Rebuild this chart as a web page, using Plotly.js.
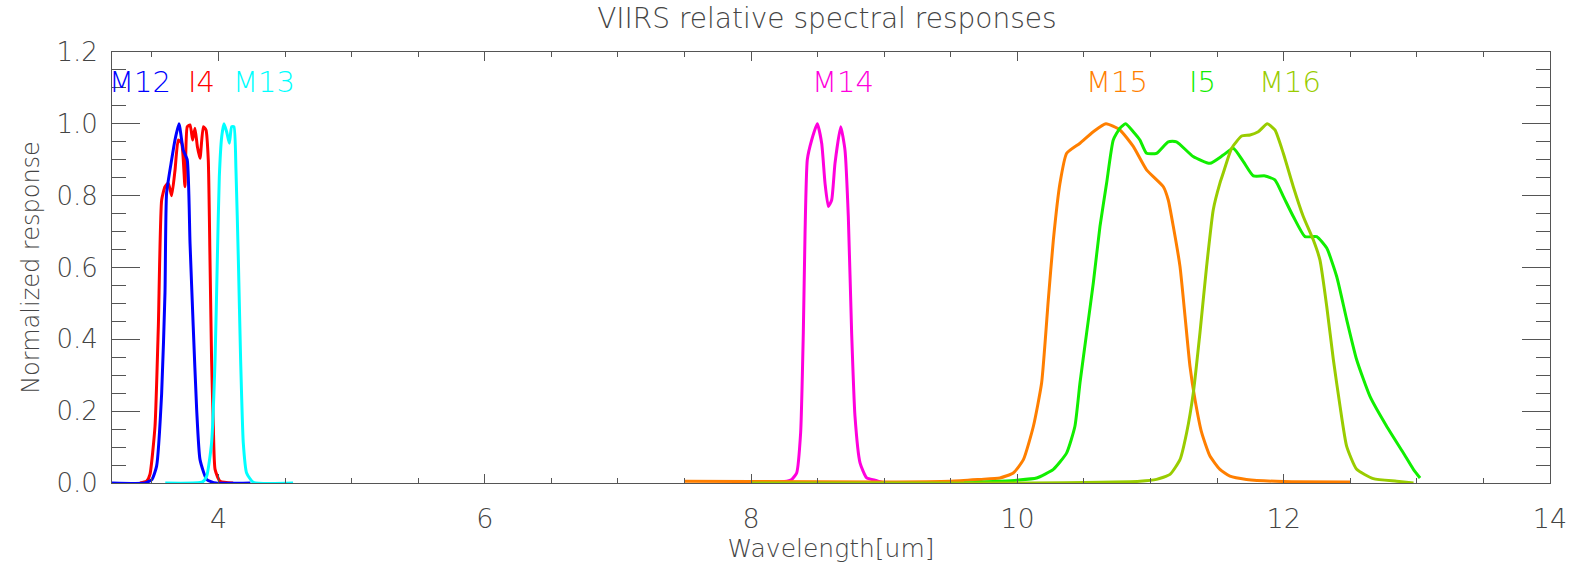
<!DOCTYPE html>
<html>
<head>
<meta charset="utf-8">
<script src="https://cdn.plot.ly/plotly-3.0.1.min.js"></script>
<style>html,body{margin:0;padding:0;background:#fff;}#chart{width:1569px;height:566px;}</style>
</head>
<body>
<div id="chart"></div>
<script>
// Band names and colours
const bandNames = ["I4", "M12", "M13", "M14", "M15", "I5", "M16"];
const bandColors = ["#ff0000", "#0000ff", "#00ffff", "#ff00dd", "#ff7f00", "#11ee00", "#99cc00"];
const labelNames = ["M12", "I4", "M13", "M14", "M15", "I5", "M16"];
const labelColors = ["#0000ff", "#ff0000", "#00ffff", "#ff00dd", "#ff7f00", "#11ee00", "#99cc00"];
const labelX = [3.41, 3.87, 4.34, 8.69, 10.75, 11.39, 12.05];
const labelY = 1.117;

// I4
const i4_x = [3.41, 3.46, 3.485, 3.523, 3.548, 3.573, 3.598, 3.623, 3.648, 3.673, 3.698, 3.723, 3.748, 3.765, 3.786, 3.806, 3.823, 3.841, 3.861, 3.886, 3.906, 3.923, 3.936, 3.948, 3.961, 3.974, 4.011, 4.11];
const i4_y = [0.0, 0.005, 0.024, 0.158, 0.436, 0.788, 0.825, 0.835, 0.80, 0.87, 0.955, 0.946, 0.825, 0.992, 0.997, 0.955, 0.988, 0.937, 0.904, 0.992, 0.983, 0.90, 0.621, 0.343, 0.158, 0.038, 0.005, 0.0];
// M12
const m12_x = [3.2, 3.45, 3.50, 3.535, 3.573, 3.598, 3.61, 3.648, 3.673, 3.703, 3.735, 3.765, 3.786, 3.81, 3.836, 3.861, 3.911, 3.98, 4.24];
const m12_y = [0.0, 0.0, 0.01, 0.047, 0.25, 0.53, 0.807, 0.90, 0.955, 1.0, 0.927, 0.90, 0.668, 0.436, 0.204, 0.065, 0.01, 0.0, 0.0];
// M13
const m13_x = [3.6, 3.88, 3.911, 3.948, 3.974, 3.991, 4.006, 4.024, 4.041, 4.061, 4.081, 4.099, 4.116, 4.131, 4.149, 4.166, 4.186, 4.211, 4.261, 4.56];
const m13_y = [0.0, 0.003, 0.019, 0.112, 0.343, 0.621, 0.853, 0.964, 1.0, 0.978, 0.946, 0.992, 0.992, 0.872, 0.621, 0.343, 0.112, 0.028, 0.002, 0.0];
// M14
const m14_x = [8.0, 8.25, 8.305, 8.342, 8.372, 8.392, 8.405, 8.422, 8.455, 8.497, 8.53, 8.555, 8.58, 8.605, 8.63, 8.673, 8.705, 8.73, 8.755, 8.78, 8.818, 8.868, 8.93, 9.0];
const m14_y = [0.0, 0.004, 0.01, 0.028, 0.14, 0.418, 0.696, 0.90, 0.955, 1.0, 0.946, 0.835, 0.77, 0.788, 0.89, 0.992, 0.927, 0.742, 0.418, 0.186, 0.056, 0.014, 0.008, 0.0];
// M15
const m15_x = [7.5, 8.0, 9.0, 9.5, 9.719, 9.869, 9.969, 10.045, 10.12, 10.182, 10.232, 10.27, 10.32, 10.37, 10.47, 10.57, 10.665, 10.77, 10.87, 10.97, 11.096, 11.133, 11.171, 11.221, 11.259, 11.296, 11.334, 11.384, 11.446, 11.521, 11.596, 11.72, 12.0, 12.5];
const m15_y = [0.005, 0.004, 0.003, 0.005, 0.01, 0.014, 0.028, 0.065, 0.158, 0.279, 0.51, 0.677, 0.835, 0.918, 0.946, 0.978, 1.0, 0.983, 0.937, 0.872, 0.825, 0.788, 0.714, 0.603, 0.464, 0.325, 0.232, 0.14, 0.075, 0.038, 0.019, 0.01, 0.004, 0.003];
// I5
const i5_x = [9.6, 9.994, 10.144, 10.27, 10.37, 10.432, 10.47, 10.52, 10.57, 10.62, 10.67, 10.72, 10.77, 10.813, 10.87, 10.92, 10.97, 11.045, 11.133, 11.195, 11.32, 11.446, 11.546, 11.621, 11.697, 11.772, 11.86, 11.934, 11.997, 12.072, 12.16, 12.248, 12.323, 12.398, 12.473, 12.548, 12.648, 12.773, 12.898, 12.974, 13.024];
const i5_y = [0.0, 0.008, 0.014, 0.038, 0.084, 0.158, 0.279, 0.418, 0.557, 0.714, 0.835, 0.955, 0.988, 1.0, 0.978, 0.955, 0.918, 0.918, 0.95, 0.95, 0.909, 0.89, 0.913, 0.932, 0.895, 0.855, 0.855, 0.844, 0.798, 0.742, 0.686, 0.686, 0.654, 0.575, 0.455, 0.343, 0.241, 0.158, 0.084, 0.038, 0.014];
// M16
const m16_x = [8.0, 9.0, 10.0, 10.92, 11.045, 11.146, 11.221, 11.271, 11.321, 11.371, 11.421, 11.471, 11.521, 11.546, 11.609, 11.684, 11.747, 11.809, 11.877, 11.934, 11.997, 12.072, 12.147, 12.222, 12.272, 12.323, 12.373, 12.423, 12.473, 12.548, 12.673, 12.848, 12.975];
const m16_y = [0.0, 0.0, 0.0, 0.005, 0.01, 0.024, 0.065, 0.14, 0.251, 0.418, 0.603, 0.761, 0.835, 0.863, 0.932, 0.966, 0.969, 0.978, 1.0, 0.983, 0.918, 0.825, 0.742, 0.677, 0.621, 0.492, 0.343, 0.214, 0.102, 0.038, 0.012, 0.005, 0.0];

const xs = [i4_x, m12_x, m13_x, m14_x, m15_x, i5_x, m16_x];
const ys = [i4_y, m12_y, m13_y, m14_y, m15_y, i5_y, m16_y];

// Axis settings
const xRange = [3.2, 14];
const yRange = [0, 1.2];
const xTickVals = [4, 6, 8, 10, 12, 14];
const yTickVals = [0.0, 0.2, 0.4, 0.6, 0.8, 1.0, 1.2];

const textColor = "#444444";
const axisColor = "#555555";
const fontFam = "DejaVu Sans, sans-serif";

const traces = bandNames.map((n, i) => ({
  x: xs[i], y: ys[i], type: "scatter", mode: "lines", name: n,
  line: {color: bandColors[i], width: 3, shape: "spline", smoothing: 0.5}, showlegend: false, hoverinfo: "skip"
}));

const annotations = labelNames.map((n, i) => ({
  x: labelX[i], y: labelY, xref: "x", yref: "y", text: n, showarrow: false,
  font: {family: fontFam, size: 29, color: labelColors[i], weight: 300},
  xanchor: "center", yanchor: "middle"
}));

const layout = {
  width: 1569, height: 566,
  margin: {l: 112, r: 19, t: 52, b: 82.5},
  paper_bgcolor: "#ffffff", plot_bgcolor: "#ffffff",
  title: {text: "VIIRS relative spectral responses", x: 0.527, xanchor: "center", y: 0.967, yanchor: "middle",
          font: {family: fontFam, size: 28, color: textColor, weight: 300}},
  font: {family: fontFam, color: textColor},
  xaxis: {
    range: xRange, tickmode: "array", tickvals: xTickVals, ticktext: xTickVals.map(String),
    automargin: false,
    ticks: "inside", ticklen: 9, tickwidth: 1, tickcolor: axisColor,
    minor: {dtick: 0.5, tick0: 0, ticks: "inside", ticklen: 5, tickcolor: axisColor, showgrid: false},
    showline: true, linecolor: axisColor, linewidth: 1, mirror: "ticks",
    showgrid: false, zeroline: false, ticklabelstandoff: 12,
    tickfont: {family: fontFam, size: 27, color: textColor, weight: 300},
    title: {text: "Wavelength[um]", standoff: 6, font: {family: fontFam, size: 25, color: textColor, weight: 300}}
  },
  yaxis: {
    range: yRange, tickmode: "array", tickvals: yTickVals, ticktext: yTickVals.map(v => v.toFixed(1)),
    automargin: false,
    ticks: "inside", ticklen: 28, tickwidth: 1, tickcolor: axisColor,
    minor: {dtick: 0.05, tick0: 0, ticks: "inside", ticklen: 14, tickcolor: axisColor, showgrid: false},
    showline: true, linecolor: axisColor, linewidth: 1, mirror: "ticks",
    showgrid: false, zeroline: false, ticklabelstandoff: 8,
    tickfont: {family: fontFam, size: 26, color: textColor, weight: 300},
    title: {text: "Normalized response", standoff: 10, font: {family: fontFam, size: 24, color: textColor, weight: 300}}
  },
  annotations: annotations
};

Plotly.newPlot("chart", traces, layout, {staticPlot: true, displayModeBar: false});
</script>
</body>
</html>
